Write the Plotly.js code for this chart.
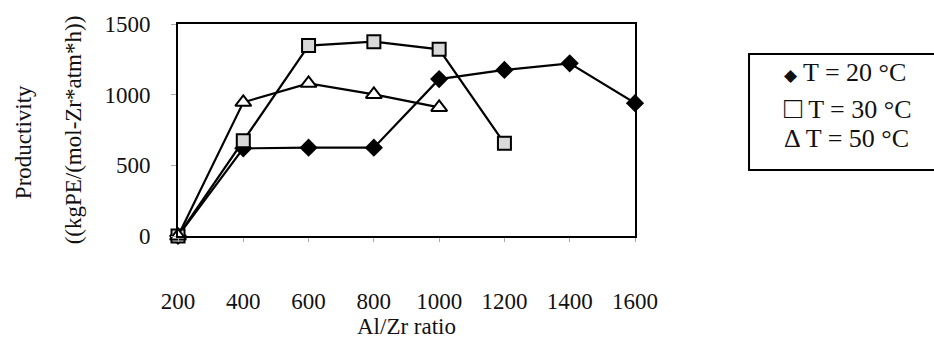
<!DOCTYPE html>
<html>
<head>
<meta charset="utf-8">
<script src="https://cdn.plot.ly/plotly-3.0.1.min.js"></script>
<style>html,body{margin:0;padding:0;background:#fff;}#chart{width:934px;height:346px;}</style>
</head>
<body>
<div id="chart"></div>
<script>
// Data
const alZrRatio = [200, 400, 600, 800, 1000, 1200, 1400, 1600];
const xTickLabels = ["200", "400", "600", "800", "1000", "1200", "1400", "1600"];
const yTickValues = [0, 500, 1000, 1500];

const x20 = [200, 400, 600, 800, 1000, 1200, 1400, 1600];
const prod20 = [0, 620, 625, 625, 1110, 1175, 1222, 940];

const x30 = [200, 400, 600, 800, 1000, 1200];
const prod30 = [0, 674, 1347, 1375, 1321, 656];

const x50 = [200, 400, 600, 800, 1000];
const prod50 = [0, 946, 1080, 1002, 910];

const seriesNames = ["T = 20 °C", "T = 30 °C", "T = 50 °C"];
const legendChars = ["\u25C6", "\u25A1", "\u0394"];

const FONT = "Liberation Serif, Times New Roman, serif";
const INK = "#111111";

const series = [
  {x: x20, y: prod20, name: seriesNames[0], symbol: "diamond", fill: "#000000", size: 14},
  {x: x30, y: prod30, name: seriesNames[1], symbol: "square", fill: "#d9d9d9", size: 13},
  {x: x50, y: prod50, name: seriesNames[2], symbol: "triangle-up", fill: "#ffffff", size: 14}
];

const traces = series.map(s => ({
  x: s.x, y: s.y, type: "scatter", mode: "lines+markers", name: s.name,
  line: {color: "#000000", width: 2.2},
  marker: {symbol: s.symbol, size: s.size, color: s.fill,
           line: {color: "#000000", width: s.symbol === "diamond" ? 0 : 2}},
  cliponaxis: false
}));

// Legend drawn as a bordered box with text entries (as in the reference)
const legendRowY = [0.769, 0.608, 0.458];
const legendCharSize = [17, 30, 26];
const legendAnnotations = seriesNames.map((n, i) => ({
  text: "<span style='font-size:" + legendCharSize[i] + "px'>" + legendChars[i] + "</span> " + n,
  xref: "paper", yref: "paper",
  x: 1.3217, y: legendRowY[i], xanchor: "left", yanchor: "middle",
  showarrow: false, font: {family: FONT, size: 26, color: INK}
}));

const layout = {
  width: 934, height: 346,
  margin: {l: 178, r: 299, t: 24, b: 110, autoexpand: false},
  paper_bgcolor: "#ffffff", plot_bgcolor: "#ffffff",
  font: {family: FONT, size: 23, color: INK},
  showlegend: false,
  xaxis: {
    range: [200, 1600], tickmode: "array", tickvals: alZrRatio, ticktext: xTickLabels,
    showgrid: false, zeroline: false,
    showline: true, linecolor: "#000000", linewidth: 2, mirror: true,
    ticks: "outside", ticklen: 4, tickcolor: "#aaaaaa", tickwidth: 1,
    ticklabelstandoff: 39,
    tickfont: {family: FONT, size: 23, color: INK},
    title: {text: "Al/Zr ratio", standoff: 0, font: {family: FONT, size: 23, color: INK}}
  },
  yaxis: {
    range: [0, 1500], tickmode: "array", tickvals: yTickValues,
    showgrid: false, zeroline: false,
    showline: true, linecolor: "#000000", linewidth: 2, mirror: true,
    ticks: "outside", ticklen: 5, tickcolor: "#aaaaaa", tickwidth: 1,
    ticklabelstandoff: 16,
    tickfont: {family: FONT, size: 23, color: INK},
    title: {text: "((kgPE/(mol-Zr*atm*h))", standoff: 16, font: {family: FONT, size: 23, color: INK}}
  },
  shapes: [{
    type: "rect", xref: "paper", yref: "paper",
    x0: 1.2495, x1: 1.68, y0: 0.311, y1: 0.858,
    line: {color: "#000000", width: 2}, fillcolor: "rgba(0,0,0,0)"
  }],
  annotations: [{
    text: "Productivity", xref: "paper", yref: "paper",
    x: -0.339, y: 0.443, xanchor: "center", yanchor: "middle",
    textangle: -90, showarrow: false,
    font: {family: FONT, size: 23, color: INK}
  }].concat(legendAnnotations)
};

Plotly.newPlot("chart", traces, layout, {displayModeBar: false, staticPlot: true});
</script>
</body>
</html>
